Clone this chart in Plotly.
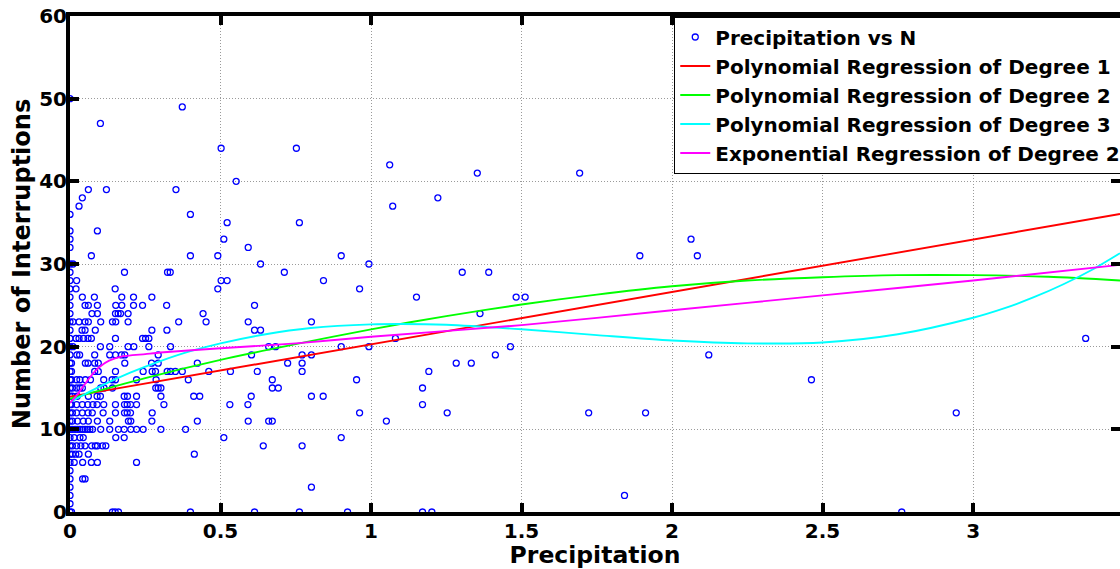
import plotly.graph_objects as go

# ---------------- data ----------------
# Scatter: each row lists the precipitation values of the points with that number of interruptions
row_interruptions = [0, 1, 2, 3, 4, 5, 6, 7, 8, 9, 10, 11, 12, 13, 14, 15, 16, 17, 18, 19,
                     20, 21, 22, 23, 24, 25, 26, 27, 28, 29, 30, 31, 32, 33, 34, 35, 36,
                     37, 38, 39, 40, 41, 42, 44, 47, 49, 50]
row_precip = [
    [0, 0.005, 0.141, 0.150, 0.161, 0.400, 0.613, 0.762, 0.922, 1.171, 1.202, 2.763],  # 0
    [0],                                                                              # 1
    [0, 1.842],                                                                       # 2
    [0, 0.802],                                                                       # 3
    [0, 0.042, 0.050],                                                                # 4
    [0],                                                                              # 5
    [0, 0.014, 0.042, 0.071, 0.091, 0.221],                                           # 6
    [0, 0.008, 0.019, 0.030, 0.061, 0.413],                                           # 7
    [0, 0.008, 0.022, 0.036, 0.050, 0.072, 0.084, 0.091, 0.108, 0.119, 0.642, 0.771], # 8
    [0, 0.014, 0.033, 0.044, 0.152, 0.180, 0.511, 0.901],                             # 9
    [0, 0.008, 0.017, 0.025, 0.033, 0.042, 0.050, 0.058, 0.066, 0.075, 0.102, 0.132,
     0.161, 0.180, 0.202, 0.221, 0.243, 0.302, 0.384],                                # 10
    [0, 0.008, 0.025, 0.044, 0.061, 0.091, 0.132, 0.194, 0.202, 0.272, 0.423, 0.592,
     0.660, 0.672, 1.051],                                                            # 11
    [0, 0.008, 0.022, 0.041, 0.060, 0.074, 0.110, 0.151, 0.181, 0.190, 0.201, 0.273,
     0.962, 1.253, 1.723, 1.912, 2.944],                                              # 12
    [0, 0.005, 0.022, 0.041, 0.059, 0.076, 0.090, 0.112, 0.151, 0.181, 0.190, 0.201,
     0.221, 0.312, 0.531, 0.591, 1.171],                                              # 13
    [0, 0.008, 0.024, 0.061, 0.090, 0.101, 0.180, 0.191, 0.221, 0.302, 0.411, 0.431,
     0.602, 0.802, 0.841],                                                            # 14
    [0, 0.008, 0.022, 0.033, 0.041, 0.102, 0.113, 0.141, 0.285, 0.293, 0.302, 0.672,
     0.692, 1.171],                                                                   # 15
    [0, 0.005, 0.022, 0.033, 0.051, 0.068, 0.112, 0.140, 0.151, 0.221, 0.286, 0.393,
     0.672, 0.952, 2.463],                                                            # 16
    [0, 0.005, 0.082, 0.094, 0.151, 0.243, 0.273, 0.284, 0.323, 0.334, 0.350, 0.373,
     0.461, 0.533, 0.622, 0.771, 1.192],                                              # 17
    [0, 0.005, 0.051, 0.060, 0.082, 0.094, 0.182, 0.271, 0.293, 0.423, 0.723, 0.771,
     1.283, 1.333],                                                                   # 18
    [0, 0.023, 0.032, 0.082, 0.132, 0.151, 0.171, 0.182, 0.293, 0.603, 0.771, 0.802,
     1.413, 2.122],                                                                   # 19
    [0, 0.010, 0.101, 0.132, 0.193, 0.212, 0.262, 0.334, 0.660, 0.683, 0.901, 0.993,
     1.463],                                                                          # 20
    [0, 0.020, 0.030, 0.045, 0.060, 0.071, 0.151, 0.241, 0.251, 0.262, 1.081, 3.374], # 21
    [0, 0.040, 0.050, 0.084, 0.272, 0.322, 0.613, 0.633],                             # 22
    [0, 0.010, 0.030, 0.050, 0.061, 0.102, 0.141, 0.152, 0.193, 0.361, 0.452, 0.592,
     0.802],                                                                          # 23
    [0, 0.073, 0.091, 0.151, 0.160, 0.168, 0.193, 0.442, 1.362],                      # 24
    [0, 0.050, 0.061, 0.091, 0.152, 0.172, 0.211, 0.241, 0.321, 0.613],               # 25
    [0, 0.041, 0.081, 0.172, 0.211, 0.272, 1.151, 1.482, 1.512],                      # 26
    [0, 0.020, 0.150, 0.491, 0.962],                                                  # 27
    [0, 0.022, 0.502, 0.522, 0.842],                                                  # 28
    [0, 0.181, 0.324, 0.333, 0.712, 1.303, 1.391],                                    # 29
    [0, 0.010, 0.633, 0.993],                                                         # 30
    [0.071, 0.400, 0.491, 0.901, 1.893, 2.084],                                       # 31
    [0, 0.592],                                                                       # 32
    [0, 0.511, 2.063],                                                                # 33
    [0, 0.091],                                                                       # 34
    [0.522, 0.762],                                                                   # 35
    [0, 0.400],                                                                       # 36
    [0.030, 1.072],                                                                   # 37
    [0.041, 1.222],                                                                   # 38
    [0.061, 0.121, 0.352],                                                            # 39
    [0.552],                                                                          # 40
    [1.353, 1.693],                                                                   # 41
    [1.062],                                                                          # 42
    [0.502, 0.752],                                                                   # 44
    [0.101],                                                                          # 47
    [0.373],                                                                          # 49
    [0],                                                                              # 50
]

# Regression curves
deg1_x = [0, 1, 2, 3, 3.488]
deg1_y = [13.95, 20.3, 26.6, 33.0, 36.05]

deg2_x = [0, 0.25, 0.5, 0.75, 1, 1.25, 1.5, 1.75, 2, 2.25, 2.5, 2.75, 3, 3.25, 3.488]
deg2_y = [13.7, 16.2, 18.4, 20.3, 22.1, 23.7, 25.1, 26.3, 27.3, 28.0, 28.4, 28.65, 28.65, 28.45, 28.0]

deg3_x = [0, 0.1, 0.2, 0.3, 0.4, 0.5, 0.65, 0.8, 1.0, 1.1, 1.25, 1.5, 1.75, 2.0, 2.25, 2.5,
          2.75, 3.0, 3.1, 3.2, 3.3, 3.4, 3.488]
deg3_y = [13.3, 15.2, 16.85, 18.25, 19.45, 20.4, 21.5, 22.25, 22.7, 22.75, 22.65, 22.1, 21.4,
          20.75, 20.4, 20.5, 21.5, 23.5, 24.6, 25.95, 27.55, 29.4, 31.3]

exp_x = [0, 0.02, 0.04, 0.06, 0.08, 0.1, 0.13, 0.17, 0.25, 0.3, 0.5, 0.75, 1.0, 1.5, 2.0, 2.5,
         3.0, 3.488]
exp_y = [13.2, 14.0, 15.0, 16.0, 16.9, 17.6, 18.3, 18.8, 19.1, 19.3, 19.8, 20.4, 21.2, 22.6,
         24.4, 26.2, 28.0, 29.9]

x_tick_vals = [0, 0.5, 1, 1.5, 2, 2.5, 3]
x_tick_text = ["0", "0.5", "1", "1.5", "2", "2.5", "3"]
y_tick_vals = [0, 10, 20, 30, 40, 50, 60]

# ---------------- build figure ----------------
scatter_x, scatter_y = [], []
for n, xs in zip(row_interruptions, row_precip):
    for xv in xs:
        scatter_x.append(xv)
        scatter_y.append(n)

FONT = "DejaVu Sans, Liberation Sans, Arial, sans-serif"

fig = go.Figure()
fig.add_trace(go.Scatter(
    x=scatter_x, y=scatter_y, mode="markers", name="Precipitation vs N",
    marker=dict(symbol="circle-open", size=6, color="#0000ff", line=dict(width=1.3, color="#0000ff")),
    cliponaxis=False,
))
fig.add_trace(go.Scatter(x=deg1_x, y=deg1_y, mode="lines", name="Polynomial Regression of Degree 1",
                         line=dict(color="#ff0000", width=1.9)))
fig.add_trace(go.Scatter(x=deg2_x, y=deg2_y, mode="lines", name="Polynomial Regression of Degree 2",
                         line=dict(color="#00ff00", width=1.9, shape="spline", smoothing=0.8)))
fig.add_trace(go.Scatter(x=deg3_x, y=deg3_y, mode="lines", name="Polynomial Regression of Degree 3",
                         line=dict(color="#00ffff", width=1.9, shape="spline", smoothing=0.8)))
fig.add_trace(go.Scatter(x=exp_x, y=exp_y, mode="lines", name="Exponential Regression of Degree 2",
                         line=dict(color="#ff00ff", width=1.9, shape="spline", smoothing=0.6)))

axis_common = dict(
    ticks="inside", ticklen=9, tickwidth=4, tickcolor="black",
    showline=True, linewidth=4, linecolor="black", mirror="ticks",
    showgrid=True, gridcolor="#9a9a9a", gridwidth=1, griddash="1px,2px",
    zeroline=False, layer="above traces",
    tickfont=dict(family=FONT, size=20, color="black", weight="bold"),
)

fig.update_xaxes(
    range=[0, 3.488], tickmode="array", tickvals=x_tick_vals, ticktext=x_tick_text,
    ticklabelstandoff=-2,
    title=dict(text="Precipitation", font=dict(family=FONT, size=23.5, color="black", weight="bold"),
               standoff=2),
    **axis_common,
)
fig.update_yaxes(
    range=[0, 60], tickmode="array", tickvals=y_tick_vals,
    ticklabelstandoff=-5,
    title=dict(text="Number of Interruptions", font=dict(family=FONT, size=24, color="black", weight="bold"),
               standoff=3),
    **axis_common,
)

fig.update_layout(
    width=1120, height=569,
    margin=dict(l=70, r=0, t=16, b=57, autoexpand=False),
    plot_bgcolor="white", paper_bgcolor="white",
    font=dict(family=FONT, color="black"),
    showlegend=True,
    legend=dict(
        x=0.575, y=1.0, xanchor="left", yanchor="top",
        bgcolor="white", bordercolor="black", borderwidth=1.5,
        font=dict(family=FONT, size=20, color="black", weight="bold"),
        tracegroupgap=0,
    ),
)

fig.write_html("out.html")
